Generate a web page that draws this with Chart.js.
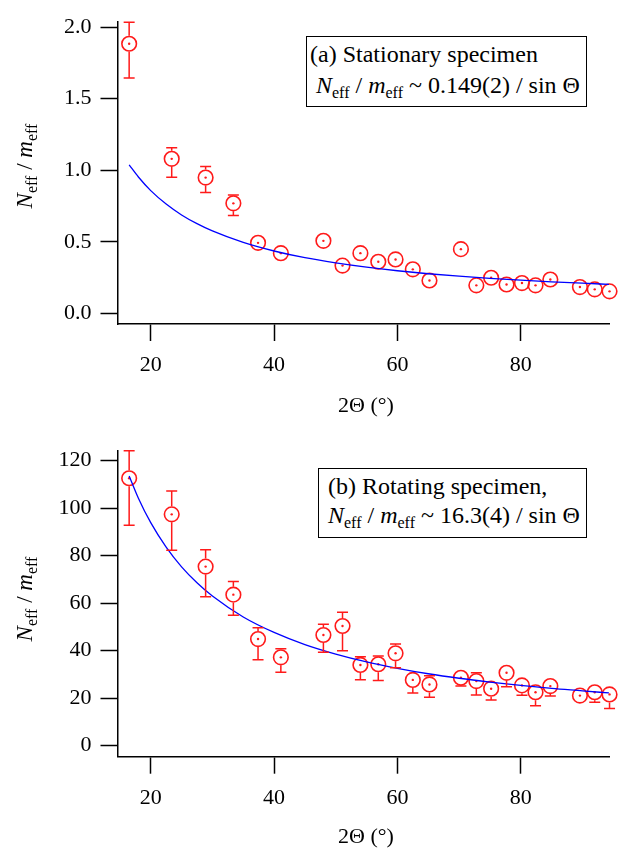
<!DOCTYPE html>
<html><head><meta charset="utf-8">
<script src="https://cdn.jsdelivr.net/npm/chart.js@4/dist/chart.umd.min.js"></script>
<style>
html,body{margin:0;padding:0;background:#fff;}
#wrap{position:relative;width:618px;height:848px;overflow:hidden;font-family:"Liberation Serif",serif;color:#000;}
.panel{position:absolute;left:0;width:618px;height:424px;}
.ytitle{position:absolute;font-size:23px;line-height:23px;white-space:nowrap;transform:translate(-50%,-50%) rotate(-90deg);}
.xtitle{position:absolute;font-size:22px;line-height:22px;white-space:nowrap;transform:translate(-50%,-50%);}
.box{position:absolute;border:1.5px solid #000;background:#fff;box-sizing:border-box;}
.line{position:absolute;font-size:24px;line-height:24px;white-space:nowrap;}
.sub{font-size:16px;position:relative;top:5px;}
</style>
</head><body>
<div id="wrap">
  <canvas id="chartA" class="panel" style="top:0" width="618" height="424"></canvas>
  <canvas id="chartB" class="panel" style="top:424px" width="618" height="424"></canvas>

  <div class="ytitle" style="left:25px;top:166px"><i>N</i><span class="sub">eff</span> / <i>m</i><span class="sub">eff</span></div>
  <div class="ytitle" style="left:25px;top:599px"><i>N</i><span class="sub">eff</span> / <i>m</i><span class="sub">eff</span></div>
  <div class="xtitle" style="left:366px;top:405px">2Θ (°)</div>
  <div class="xtitle" style="left:366px;top:836px">2Θ (°)</div>

  <div class="box" style="left:306px;top:36px;width:281px;height:71px"></div>
  <div class="line" style="left:310px;top:42px">(a) Stationary specimen</div>
  <div class="line" style="left:316px;top:73px"><i>N</i><span class="sub">eff</span> / <i>m</i><span class="sub">eff</span> ~ 0.149(2) / sin Θ</div>

  <div class="box" style="left:318px;top:468px;width:269px;height:70px"></div>
  <div class="line" style="left:328px;top:474px">(b) Rotating specimen,</div>
  <div class="line" style="left:328px;top:503px"><i>N</i><span class="sub">eff</span> / <i>m</i><span class="sub">eff</span> ~ 16.3(4) / sin Θ</div>
</div>
<script>
// ---- data ----
const twoTheta = [16.5, 23.4, 28.9, 33.4, 37.4, 41.1, 48.0, 51.1, 54.0, 56.9, 59.7, 62.5, 65.2, 70.3, 72.8, 75.2, 77.7, 80.2, 82.4, 84.8, 89.6, 92.0, 94.4];

const stationaryN  = [1.884, 1.080, 0.949, 0.769, 0.493, 0.421, 0.507, 0.334, 0.421, 0.361, 0.377, 0.308, 0.230, 0.449, 0.196, 0.249, 0.202, 0.212, 0.196, 0.237, 0.184, 0.168, 0.154];
const stationaryHi = [2.034, 1.158, 1.027, 0.827, 0.535, 0.450, 0.555, 0.360, 0.445, 0.385, 0.400, 0.330, 0.250, 0.495, 0.215, 0.270, 0.220, 0.230, 0.215, 0.258, 0.200, 0.183, 0.168];
const stationaryLo = [1.645, 0.951, 0.845, 0.684, 0.451, 0.390, 0.456, 0.310, 0.397, 0.337, 0.354, 0.286, 0.210, 0.400, 0.177, 0.228, 0.184, 0.194, 0.177, 0.216, 0.168, 0.153, 0.140];

const rotatingN  = [112.6, 97.4, 75.4, 63.6, 44.9, 37.2, 46.6, 50.4, 34.0, 34.3, 38.9, 27.7, 25.8, 28.6, 27.2, 24.0, 30.7, 25.4, 22.5, 25.1, 21.1, 22.5, 21.6];
const rotatingHi = [124.2, 107.2, 82.5, 69.1, 49.7, 40.8, 51.1, 56.2, 37.5, 37.8, 42.8, 29.8, 29.5, 30.5, 30.7, 26.3, 34.0, 27.7, 24.8, 27.7, 22.7, 24.8, 24.8];
const rotatingLo = [92.8, 82.3, 62.7, 54.9, 36.2, 30.9, 39.3, 40.0, 27.8, 27.5, 32.8, 22.2, 20.4, 25.1, 21.3, 19.2, 24.8, 21.2, 16.8, 20.9, 17.8, 18.3, 15.7];

const fitX          = [16.5, 18, 20, 22.5, 25, 27.5, 30, 35, 40, 45, 50, 55, 60, 65, 70, 75, 80, 85, 90, 94.3];
const fitStationary = [1.038, 0.953, 0.858, 0.764, 0.688, 0.627, 0.576, 0.496, 0.436, 0.389, 0.353, 0.323, 0.298, 0.277, 0.260, 0.245, 0.232, 0.221, 0.211, 0.203];
const fitRotating   = [113.6, 104.2, 93.9, 83.6, 75.3, 68.6, 63.0, 54.2, 47.7, 42.6, 38.6, 35.3, 32.6, 30.3, 28.4, 26.8, 25.4, 24.1, 23.1, 22.2];

const xTickValues = [20, 40, 60, 80];
const yTicksStationary = [0, 0.5, 1.0, 1.5, 2.0];
const yTicksRotating = [0, 20, 40, 60, 80, 100, 120];

// ---- pick an installed serif face ----
function pickSerif() {
  const c = document.createElement('canvas').getContext('2d');
  const s = 'abcdefghijklmnopqrstuvwxyzABCDEFGHIJ0123456789()';
  const w = f => { c.font = '60px ' + f; return c.measureText(s).width; };
  const mono = w('monospace'), sans = w('sans-serif');
  const cands = ['Liberation Serif', 'Tinos', 'Times New Roman', 'Nimbus Roman', 'Nimbus Roman No9 L', 'FreeSerif', 'DejaVu Serif', 'Noto Serif', 'Times'];
  for (const f of cands) {
    const a = w('"' + f + '", monospace'), b = w('"' + f + '", sans-serif');
    if (a !== mono && b !== sans) return '"' + f + '"';
  }
  return 'serif';
}
const SERIF = pickSerif();
document.getElementById('wrap').style.fontFamily = SERIF + ', serif';

// ---- styling ----
const RED = '#ff1a1a', BLUE = '#0000ff';
const MARK_R = 7.3;
const tickFont = {family: SERIF + ', serif', size: 22};

const errorBarPlugin = {
  id: 'errorBars',
  afterDatasetsDraw(chart, args, opts) {
    const ctx = chart.ctx, xs = chart.scales.x, ys = chart.scales.y;
    const r = MARK_R + 0.7;
    ctx.save();
    ctx.strokeStyle = RED; ctx.lineWidth = 1.5;
    opts.x.forEach((xv, i) => {
      const px = xs.getPixelForValue(xv);
      const py = ys.getPixelForValue(opts.y[i]);
      const pHi = ys.getPixelForValue(opts.hi[i]);
      const pLo = ys.getPixelForValue(opts.lo[i]);
      ctx.beginPath();
      if (py - pHi > r) {
        ctx.moveTo(px, py - r); ctx.lineTo(px, pHi);
        ctx.moveTo(px - 5.5, pHi); ctx.lineTo(px + 5.5, pHi);
      }
      if (pLo - py > r) {
        ctx.moveTo(px, py + r); ctx.lineTo(px, pLo);
        ctx.moveTo(px - 5.5, pLo); ctx.lineTo(px + 5.5, pLo);
      }
      ctx.stroke();
    });
    ctx.restore();
  }
};

function makeChart(id, vals, hi, lo, fit, yTicks, yMin, yMax, fmt, padTop, xHeight) {
  const pts = twoTheta.map((x, i) => ({x, y: vals[i]}));
  const line = fitX.map((x, i) => ({x, y: fit[i]}));
  return new Chart(document.getElementById(id), {
    type: 'scatter',
    data: {
      datasets: [
        {data: line, showLine: true, borderColor: BLUE, borderWidth: 1.3, pointRadius: 0, cubicInterpolationMode: 'monotone', fill: false, clip: false},
        {data: pts, pointStyle: 'circle', pointRadius: MARK_R, borderColor: RED, backgroundColor: 'rgba(0,0,0,0)', pointBorderWidth: 1.6, clip: false},
        {data: pts, pointStyle: 'circle', pointRadius: 1.2, borderWidth: 0, backgroundColor: RED, pointBorderWidth: 0, clip: false}
      ]
    },
    options: {
      responsive: false, animation: false, events: [],
      layout: {padding: {top: padTop, right: 5, left: 0, bottom: 0}},
      plugins: {legend: {display: false}, tooltip: {enabled: false},
        errorBars: {x: twoTheta, y: vals, hi, lo}},
      scales: {
        x: {type: 'linear', min: 14.61, max: 94.33,
          afterBuildTicks: s => { s.ticks = xTickValues.map(v => ({value: v})); },
          afterFit: s => { s.height = xHeight; },
          grid: {drawOnChartArea: false, drawTicks: true, tickLength: 17, tickWidth: 1.5, tickColor: '#000'},
          border: {display: true, color: '#000', width: 1.5},
          ticks: {font: tickFont, color: '#000', padding: 11, maxRotation: 0, autoSkip: false}},
        y: {type: 'linear', min: yMin, max: yMax,
          afterBuildTicks: s => { s.ticks = yTicks.map(v => ({value: v})); },
          afterFit: s => { s.width = 117.5; },
          grid: {drawOnChartArea: false, drawTicks: true, tickLength: 17, tickWidth: 1.5, tickColor: '#000'},
          border: {display: true, color: '#000', width: 1.5},
          ticks: {font: tickFont, color: '#000', padding: 9, callback: fmt, autoSkip: false}}
      }
    },
    plugins: [errorBarPlugin]
  });
}

makeChart('chartA', stationaryN, stationaryHi, stationaryLo, fitStationary, yTicksStationary, -0.074, 2.0346, v => v.toFixed(1), 19, 100);
makeChart('chartB', rotatingN, rotatingHi, rotatingLo, fitRotating, yTicksRotating, -4.63, 124.08, v => String(v), 27, 91.3);
</script>
</body></html>
